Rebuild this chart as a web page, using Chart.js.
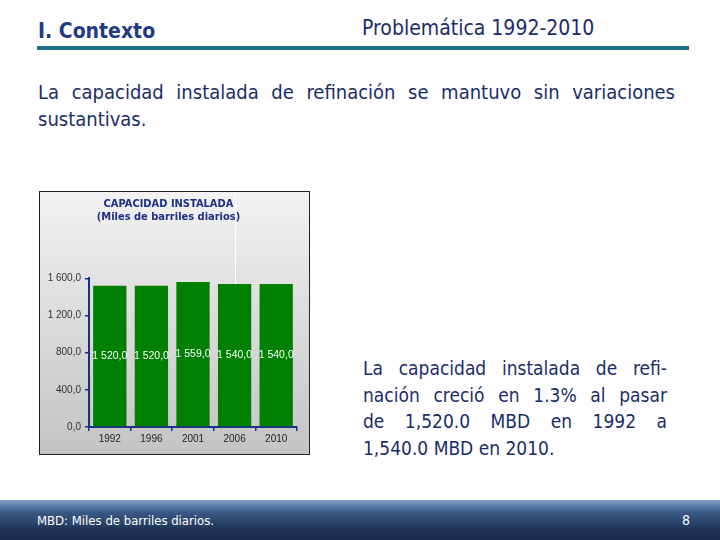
<!DOCTYPE html>
<html>
<head>
<meta charset="utf-8">
<script src="https://cdn.jsdelivr.net/npm/chart.js@4.4.0/dist/chart.umd.min.js"></script>
<style>
  body { margin: 0; width: 720px; height: 540px; position: relative; background: #fff; overflow: hidden;
         font-family: "DejaVu Sans Condensed", "Liberation Sans", sans-serif; color: #1a2d6b; }
  .abs { position: absolute; }
  #hdrL { left: 38px; top: 19px; font-size: 21px; font-weight: bold; color: #1f3a86; }
  #hdrR { left: 362px; top: 16px; font-size: 21px; color: #1a2d6b; }
  #rule { left: 37px; top: 46px; width: 652px; height: 4px; background: #1f6f8b; }
  #intro { left: 38px; top: 79px; width: 637px; font-size: 20px; line-height: 27px; }
  .just { text-align: justify; text-align-last: justify; }
  #box { left: 39px; top: 191px; width: 269px; height: 262px; border: 1px solid #222;
         background: linear-gradient(#f2f2f2, #c4c4c4); }
  #streak { left: 235px; top: 192px; width: 1px; height: 92px; background: #fff; }
  #note { left: 363px; top: 355px; width: 304px; font-size: 19px; line-height: 26.5px; }
  #foot { left: 0; top: 500px; width: 720px; height: 40px;
          background: linear-gradient(#7d9dc6 0%, #3b5a86 30%, #1e3457 75%, #1a2d4d 100%); }
  #footL { left: 37px; top: 513px; font-size: 13px; color: #fff; }
  #footR { left: 682px; top: 512px; font-size: 14px; color: #fff; }
</style>
</head>
<body>
<div class="abs" id="hdrL">I. Contexto</div>
<div class="abs" id="hdrR">Problemática 1992-2010</div>
<div class="abs" id="rule"></div>
<div class="abs" id="intro">
  <div class="just">La capacidad instalada de refinación se mantuvo sin variaciones</div>
  <div>sustantivas.</div>
</div>
<div class="abs" id="box"><canvas id="myChart" width="269" height="262"></canvas></div>
<div class="abs" id="streak"></div>
<div class="abs" id="note">
  <div class="just">La capacidad instalada de refi-</div>
  <div class="just">nación creció en 1.3% al pasar</div>
  <div class="just">de 1,520.0 MBD en 1992 a</div>
  <div>1,540.0 MBD en 2010.</div>
</div>
<div class="abs" id="foot"></div>
<div class="abs" id="footL">MBD: Miles de barriles diarios.</div>
<div class="abs" id="footR">8</div>

<script>
const years = ['1992', '1996', '2001', '2006', '2010'];
const capacity = [1520.0, 1520.0, 1559.0, 1540.0, 1540.0];
const yTicks = [0, 400, 800, 1200, 1600];

// formato 1 520,0
function fmt(v) {
    const parts = v.toFixed(1).split('.');
    return parts[0].replace(/\B(?=(\d{3})+(?!\d))/g, ' ') + ',' + parts[1];
}

const navy = '#1c2f86';

const barLabels = {
    id: 'barLabels',
    afterDatasetsDraw(chart) {
        const ctx = chart.ctx;
        const y = chart.scales.y;
        ctx.save();
        ctx.fillStyle = '#fff';
        ctx.font = '10.5px "Liberation Sans", Arial, sans-serif';
        ctx.textAlign = 'center';
        ctx.textBaseline = 'middle';
        chart.getDatasetMeta(0).data.forEach((bar, i) => {
            ctx.fillText(fmt(capacity[i]), bar.x, y.getPixelForValue(capacity[i] / 2));
        });
        ctx.restore();
    }
};

const ctx = document.getElementById('myChart').getContext('2d');
new Chart(ctx, {
    type: 'bar',
    data: {
        labels: years,
        datasets: [{
            data: capacity,
            backgroundColor: '#008000',
            barPercentage: 0.8,
            categoryPercentage: 1.0
        }]
    },
    options: {
        responsive: false,
        animation: false,
        layout: { padding: { left: 0, right: 12, top: 0, bottom: 0 } },
        plugins: {
            legend: { display: false },
            tooltip: { enabled: false },
            title: {
                display: true,
                text: ['CAPACIDAD INSTALADA', '(Miles de barriles diarios)'],
                color: navy,
                font: { family: '"DejaVu Sans Condensed", "Liberation Sans", sans-serif', size: 11, weight: 'bold', lineHeight: 1.15 },
                padding: { top: 6, bottom: 55 }
            }
        },
        scales: {
            x: {
                grid: { offset: true, drawOnChartArea: false, tickLength: 4, color: navy, lineWidth: 1.5 },
                border: { color: navy, width: 2 },
                ticks: { color: '#222', padding: 2, font: { family: '"Liberation Sans", Arial', size: 10 } },
                afterFit(s) { s.height = 27; }
            },
            y: {
                min: 0,
                max: 1600,
                afterBuildTicks(s) { s.ticks = yTicks.map(v => ({ value: v })); },
                grid: { drawOnChartArea: false, tickLength: 4, color: navy, lineWidth: 1.5 },
                border: { color: navy, width: 2 },
                ticks: {
                    color: '#333', padding: 4,
                    font: { family: '"Liberation Sans", Arial', size: 10 },
                    callback: v => fmt(v)
                },
                afterFit(s) { s.width = 49; }
            }
        }
    },
    plugins: [barLabels]
});
</script>
</body>
</html>
